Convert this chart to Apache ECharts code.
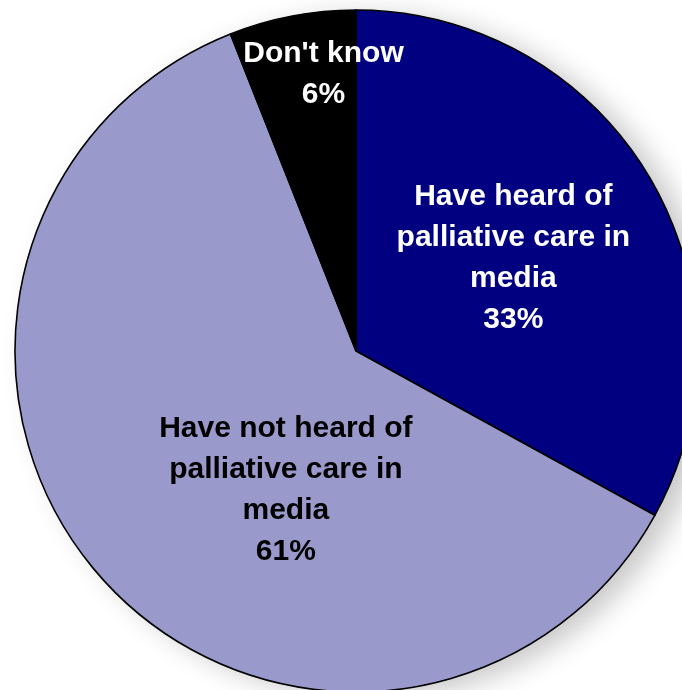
<!DOCTYPE html>
<html>
<head>
<meta charset="utf-8">
<script src="https://cdn.jsdelivr.net/npm/echarts@6/dist/echarts.min.js"></script>
<style>
  html, body { margin: 0; padding: 0; background: #ffffff; }
  #chart { width: 682px; height: 690px; }
</style>
</head>
<body>
<div id="chart"></div>
<script>
// ---- data ----
var categories = [
  "Have heard of\npalliative care in\nmedia",
  "Have not heard of\npalliative care in\nmedia",
  "Don't know"
];
var values = [33, 61, 6];

// ---- styling (not data) ----
var sliceColors = ["#000080", "#9999CC", "#000000"];
var labelColors = ["#ffffff", "#000000", "#ffffff"];
var labelShift = [[8, -4], [60, 24], [0, -106]];

var chart = echarts.init(document.getElementById('chart'), null, { renderer: 'canvas' });

var pieData = categories.map(function (name, i) {
  return {
    name: name,
    value: values[i],
    itemStyle: { color: sliceColors[i] },
    label: { color: labelColors[i] }
  };
});

var option = {
  backgroundColor: '#ffffff',
  animation: false,
  series: [
    {
      // backdrop circle carrying the soft drop shadow
      type: 'pie',
      silent: true,
      center: [356, 351],
      radius: [0, 341],
      startAngle: 90,
      label: { show: false },
      labelLine: { show: false },
      itemStyle: {
        color: '#ffffff',
        borderWidth: 0,
        shadowColor: 'rgba(0,0,0,0.22)',
        shadowBlur: 28,
        shadowOffsetX: 16,
        shadowOffsetY: 6
      },
      data: [{ name: 'backdrop', value: values.reduce(function (a, b) { return a + b; }, 0) }],
      z: 1
    },
    {
      type: 'pie',
      center: [356, 351],
      radius: [0, 341],
      startAngle: 90,
      clockwise: true,
      avoidLabelOverlap: false,
      itemStyle: {
        borderColor: '#000000',
        borderWidth: 1.6
      },
      label: {
        show: true,
        position: 'inside',
        formatter: '{b}\n{c}%',
        fontFamily: '"Liberation Sans", Arial, sans-serif',
        fontWeight: 'bold',
        fontSize: 30,
        lineHeight: 41,
        align: 'center'
      },
      labelLine: { show: false },
      labelLayout: function (params) {
        var s = labelShift[params.dataIndex];
        return { dx: s[0], dy: s[1] };
      },
      emphasis: { disabled: true },
      data: pieData,
      z: 2
    }
  ]
};

chart.setOption(option);
</script>
</body>
</html>
